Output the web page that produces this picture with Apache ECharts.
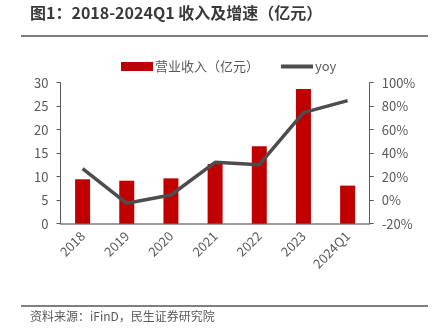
<!DOCTYPE html>
<html><head><meta charset="utf-8">
<script src="https://cdn.jsdelivr.net/npm/echarts@6/dist/echarts.min.js"></script>
<style>html,body{margin:0;padding:0;background:#fff;}#c{width:434px;height:333px;}</style>
</head><body><div id="c"></div>
<script>
const categories = ['2018','2019','2020','2021','2022','2023','2024Q1'];
const revenue = [9.45, 9.15, 9.65, 12.7, 16.5, 28.65, 8.1];
const yoy = [26.8, -2.6, 4.4, 32.2, 30.2, 74.5, 84.7];
const leftTicks = [0, 30, 5];
const rightTicks = [-20, 100, 20];
const font = '"Noto Sans CJK SC", "Microsoft YaHei", sans-serif';
const chart = echarts.init(document.getElementById('c'));
chart.setOption({
  animation: false,
  graphic: [
    {type:'text', left: 30, top: 5, style:{text:'图1：2018-2024Q1 收入及增速（亿元）', font:'bold 16px ' + font, fill:'#3a3a3a'}},
    {type:'line', shape:{x1:21,y1:36,x2:428,y2:36}, style:{stroke:'#555', lineWidth:1.5}},
    {type:'line', shape:{x1:21,y1:306,x2:428,y2:306}, style:{stroke:'#555', lineWidth:1.5}},
    {type:'text', left: 30, top: 310, style:{text:'资料来源：iFinD，民生证券研究院', font:'12px ' + font, fill:'#595959'}}
  ],
  legend: {
    top: 55, left: 116, itemGap: 22, itemWidth: 32, itemHeight: 9,
    textStyle:{fontFamily: font, fontSize: 13, color:'#595959', padding:[0,0,0,-3]},
    data:[{name:'营业收入（亿元）', icon:'rect'}, {name:'yoy', icon:'path://M0,0H32V4H0Z', itemStyle:{color:'#4d4d4d'}}]
  },
  grid: {left: 60.5, right: 64.3, top: 82.7, bottom: 109.3, containLabel: false},
  xAxis: {
    type:'category', data: categories,
    axisLine:{lineStyle:{color:'#7f7f7f', width:1.5}},
    axisTick:{show:false},
    axisLabel:{rotate:45, color:'#595959', fontSize:13, fontFamily: font, margin: 10, interval:0}
  },
  yAxis: [
    {type:'value', min:leftTicks[0], max:leftTicks[1], interval:leftTicks[2],
     axisLine:{show:true, lineStyle:{color:'#595959', width:1}},
     axisTick:{show:true, length:4, lineStyle:{color:'#595959'}},
     splitLine:{show:false},
     axisLabel:{color:'#595959', fontSize:13, fontFamily: font, margin:12}},
    {type:'value', min:rightTicks[0], max:rightTicks[1], interval:rightTicks[2],
     axisLine:{show:true, lineStyle:{color:'#595959', width:1}},
     axisTick:{show:true, length:4, lineStyle:{color:'#595959'}},
     splitLine:{show:false},
     axisLabel:{color:'#595959', fontSize:13, fontFamily: font, margin:12, formatter:'{value}%'}}
  ],
  series: [
    {name:'营业收入（亿元）', type:'bar', data: revenue, barWidth: 15, itemStyle:{color:'#c00000'}},
    {name:'yoy', type:'line', yAxisIndex:1, data: yoy, symbol:'none', lineStyle:{color:'#4d4d4d', width:3.5}, itemStyle:{color:'#4d4d4d'}}
  ]
});
</script></body></html>
